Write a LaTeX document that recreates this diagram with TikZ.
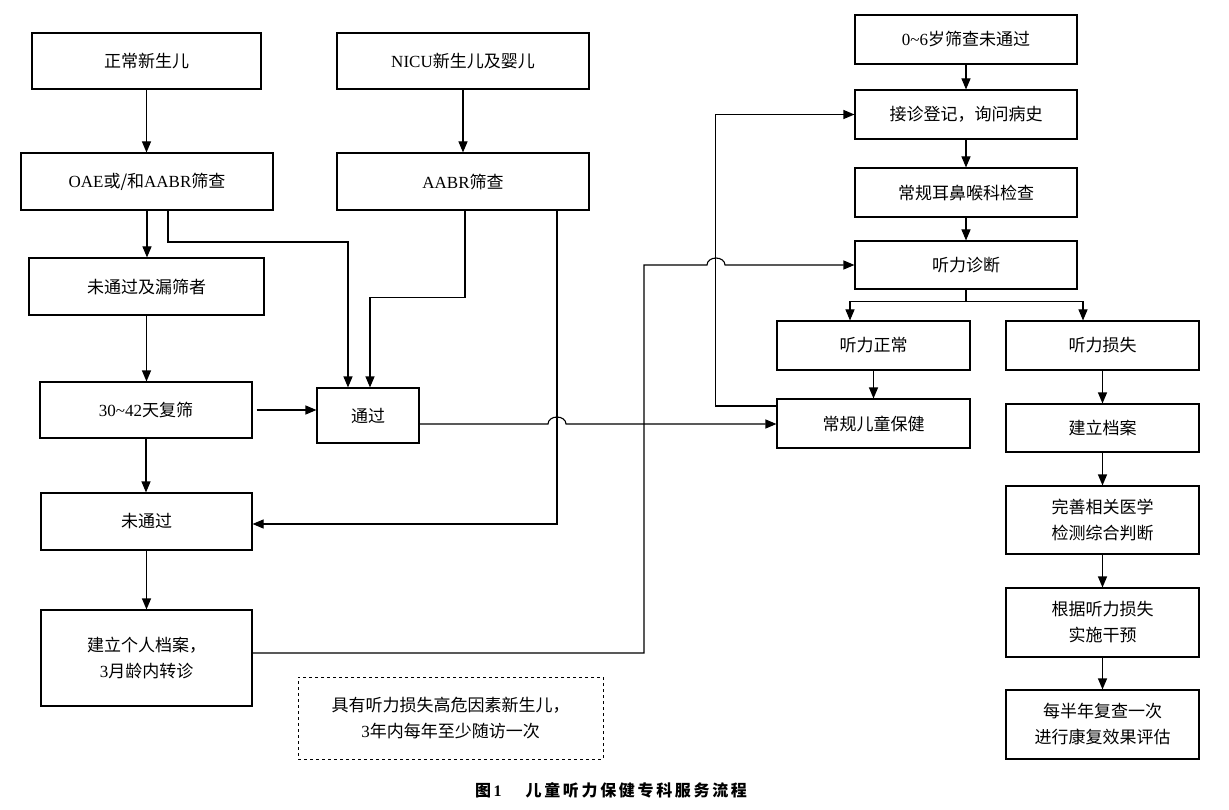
\documentclass[tikz,border=0pt]{standalone}
\usepackage{fontspec}
\setmainfont{Liberation Serif}
\newfontfamily\cjk{Noto Sans CJK SC}
\newfontfamily\lat{Liberation Serif}
\usetikzlibrary{arrows.meta,calc}
\begin{document}
\begin{tikzpicture}[x=1pt,y=-1pt,
  box/.style={draw,line width=1.1pt,inner sep=0pt,align=center,font=\cjk\fontsize{17}{26}\selectfont},
  dbox/.style={box,dashed,line width=1pt},
  conn/.style={line width=1.1pt},
  arr/.style={conn,-{Triangle[length=11pt,width=9pt]}}]
\useasboundingbox (0,0) rectangle (1229,810);
\node[box,minimum width=229pt,minimum height=56pt] (n1) at (146.5,61) {正常新生儿};
\node[box,minimum width=252pt,minimum height=56pt] (n2) at (463,61) {{\lat NICU}新生儿及婴儿};
\node[box,minimum width=252pt,minimum height=57pt] (n3) at (147,181.5) {{\lat OAE}或/和{\lat AABR}筛查};
\node[box,minimum width=252pt,minimum height=57pt] (n4) at (463,181.5) {{\lat AABR}筛查};
\node[box,minimum width=235pt,minimum height=57pt] (n5) at (146.5,286.5) {未通过及漏筛者};
\node[box,minimum width=212pt,minimum height=56pt] (n6) at (146,410) {{\lat 30\textasciitilde42}天复筛};
\node[box,minimum width=102pt,minimum height=55pt] (n7) at (368,415.5) {通过};
\node[box,minimum width=211pt,minimum height=57pt] (n8) at (146.5,521.5) {未通过};
\node[box,minimum width=211pt,minimum height=96pt] (n9) at (146.5,658) {建立个人档案，\\{\lat 3}月龄内转诊};
\node[dbox,minimum width=305pt,minimum height=82pt] (n10) at (450.5,718) {具有听力损失高危因素新生儿，\\{\lat 3}年内每年至少随访一次};
\node[box,minimum width=222pt,minimum height=49pt] (r1) at (966,39.5) {{\lat 0\textasciitilde6}岁筛查未通过};
\node[box,minimum width=222pt,minimum height=49pt] (r2) at (966,114.5) {接诊登记，询问病史};
\node[box,minimum width=222pt,minimum height=49pt] (r3) at (966,192.5) {常规耳鼻喉科检查};
\node[box,minimum width=222pt,minimum height=48pt] (r4) at (966,265) {听力诊断};
\node[box,minimum width=193pt,minimum height=49pt] (r5) at (873.5,345.5) {听力正常};
\node[box,minimum width=193pt,minimum height=49pt] (r6) at (1102.5,345.5) {听力损失};
\node[box,minimum width=193pt,minimum height=49pt] (r7) at (873.5,423.5) {常规儿童保健};
\node[box,minimum width=193pt,minimum height=48pt] (r8) at (1102.5,428) {建立档案};
\node[box,minimum width=193pt,minimum height=68pt] (r9) at (1102.5,520) {完善相关医学\\检测综合判断};
\node[box,minimum width=193pt,minimum height=69pt] (r10) at (1102.5,622.5) {根据听力损失\\实施干预};
\node[box,minimum width=193pt,minimum height=69pt] (r11) at (1102.5,724.5) {每半年复查一次\\进行康复效果评估};
\node[font=\cjk\bfseries\fontsize{16}{20}\selectfont] (cap) at (611,790) {图\,{\lat 1}\hspace{1.5em}儿\,童\,听\,力\,保\,健\,专\,科\,服\,务\,流\,程};
% left column
\draw[arr] (n1.south) -- (n1.south |- n3.north);
\draw[arr] (n2.south) -- (n2.south |- n4.north);
\draw[arr] (n3.south) -- (n3.south |- n5.north);
\draw[arr] (n5.south) -- (n5.south |- n6.north);
\draw[arr] (n6.south) -- (n6.south |- n8.north);
\draw[arr] (n8.south) -- (n8.south |- n9.north);
\draw[arr] ([xshift=21pt]n3.south) -- ++(0,31.5) -| ([xshift=-20pt]n7.north);
\draw[arr] ([xshift=2pt]n4.south) -- ++(0,87) -| ([xshift=2pt]n7.north);
\draw[arr] ([xshift=94pt]n4.south) |- ([yshift=-2.5pt]n8.east);
\draw[arr] ([xshift=4pt]n6.east) -- (n6.east -| n7.west);
% pass to routine care with jump
\coordinate (j1) at (557,424);
\draw[arr] ([yshift=-8.5pt]n7.east) -- ([xshift=-9pt]j1) arc[start angle=180,end angle=0,x radius=9pt,y radius=7pt] -- (j1 -| r7.west);
% routine care back to registration
\draw[arr] ([yshift=17.5pt]r7.west) -- ++(-61,0) |- (r2.west);
% referral to diagnosis with jump
\coordinate (c1) at (644,653);
\coordinate (j2) at (716,265);
\draw[arr] (n9.east |- c1) -- (c1) -- (c1 |- j2) -- ([xshift=-9pt]j2) arc[start angle=180,end angle=0,x radius=9pt,y radius=7pt] -- (r4.west);
% right column
\draw[arr] (r1.south) -- (r2.north);
\draw[arr] (r2.south) -- (r3.north);
\draw[arr] (r3.south) -- (r4.north);
\coordinate (s) at ($(r4.south)+(0,12)$);
\draw[conn] (r4.south) -- (s);
\draw[arr] (s) -| ([xshift=-23.5pt]r5.north);
\draw[arr] (s) -| ([xshift=-19.5pt]r6.north);
\draw[arr] (r5.south) -- (r7.north);
\draw[arr] (r6.south) -- (r8.north);
\draw[arr] (r8.south) -- (r9.north);
\draw[arr] (r9.south) -- (r10.north);
\draw[arr] (r10.south) -- (r11.north);
\end{tikzpicture}
\end{document}
